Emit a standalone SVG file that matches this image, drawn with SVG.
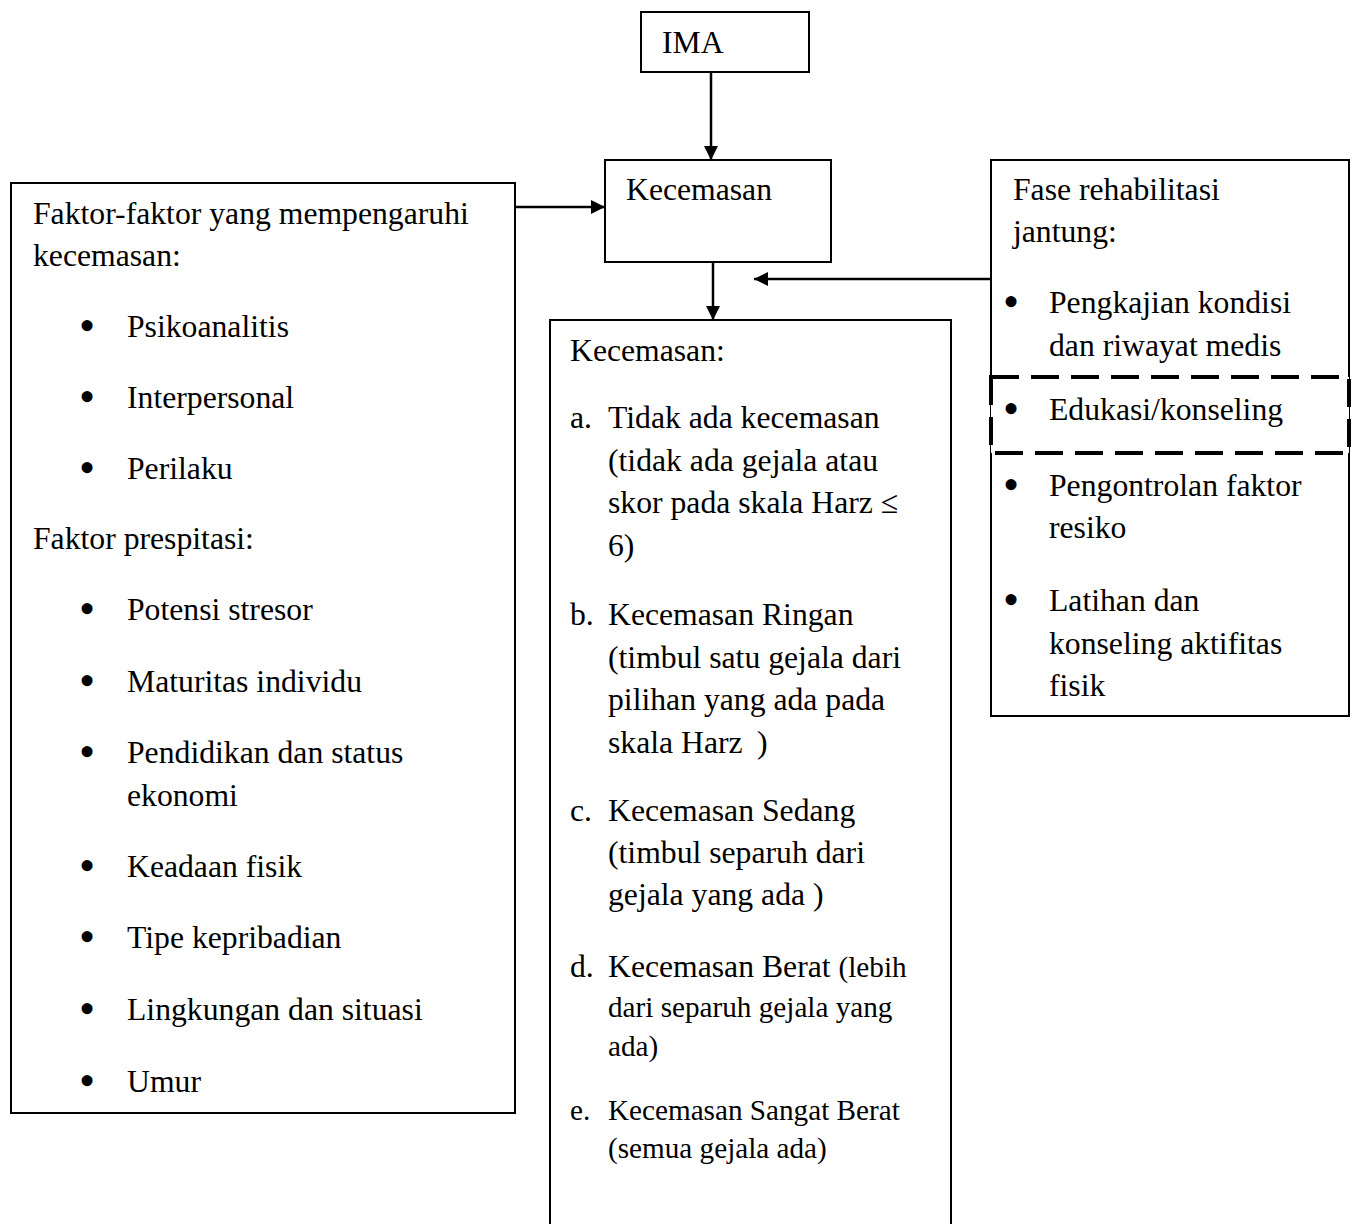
<svg xmlns="http://www.w3.org/2000/svg" width="1357" height="1224" viewBox="0 0 1357 1224">
<style>
.box{fill:#fff;stroke:#000;stroke-width:2}
.dash{fill:#fff;stroke:#000;stroke-width:4;stroke-dasharray:28 12}
.t{font-family:"Liberation Serif","Times New Roman",serif;font-size:31.7px;fill:#000}
.s{font-size:29.2px}
.b{font-size:46px}
.conn{stroke:#000;stroke-width:2.5;fill:none}
</style>
<defs>
<marker id="ah" viewBox="0 0 10 10" refX="10" refY="5" markerWidth="15" markerHeight="14" markerUnits="userSpaceOnUse" orient="auto">
<path d="M0,0 L10,5 L0,10 z" fill="#000"/>
</marker>
</defs>
<rect width="1357" height="1224" fill="#fff"/>

<g id="ima">
<rect class="box" x="641" y="12" width="168" height="60"/>
<text class="t" x="662" y="53">IMA</text>
</g>

<g id="kecemasan">
<rect class="box" x="605" y="160" width="226" height="102"/>
<text class="t" x="626" y="200">Kecemasan</text>
</g>

<g id="faktor">
<rect class="box" x="11" y="183" width="504" height="930"/>
<g class="t">
<text x="33" y="224">Faktor-faktor yang mempengaruhi</text>
<text x="33" y="266">kecemasan:</text>
<text class="b" x="79" y="341">•</text><text x="127" y="337">Psikoanalitis</text>
<text class="b" x="79" y="412">•</text><text x="127" y="408">Interpersonal</text>
<text class="b" x="79" y="483">•</text><text x="127" y="479">Perilaku</text>
<text x="33" y="549">Faktor prespitasi:</text>
<text class="b" x="79" y="624">•</text><text x="127" y="620">Potensi stresor</text>
<text class="b" x="79" y="696">•</text><text x="127" y="692">Maturitas individu</text>
<text class="b" x="79" y="767">•</text><text x="127" y="763">Pendidikan dan status</text>
<text x="127" y="806">ekonomi</text>
<text class="b" x="79" y="881">•</text><text x="127" y="877">Keadaan fisik</text>
<text class="b" x="79" y="952">•</text><text x="127" y="948">Tipe kepribadian</text>
<text class="b" x="79" y="1024">•</text><text x="127" y="1020">Lingkungan dan situasi</text>
<text class="b" x="79" y="1096">•</text><text x="127" y="1092">Umur</text>
</g>
</g>

<g id="tingkat-kecemasan">
<path class="box" d="M550,1226 L550,320 L951,320 L951,1226"/>
<g class="t">
<text x="570" y="361">Kecemasan:</text>
<text x="570" y="428">a.</text><text x="608" y="428">Tidak ada kecemasan</text>
<text x="608" y="471">(tidak ada gejala atau</text>
<text x="608" y="513">skor pada skala Harz ≤</text>
<text x="608" y="556">6)</text>
<text x="570" y="625">b.</text><text x="608" y="625">Kecemasan Ringan</text>
<text x="608" y="668">(timbul satu gejala dari</text>
<text x="608" y="710">pilihan yang ada pada</text>
<text x="608" y="753">skala Harz</text><text x="757" y="753">)</text>
<text x="570" y="821">c.</text><text x="608" y="821">Kecemasan Sedang</text>
<text x="608" y="863">(timbul separuh dari</text>
<text x="608" y="905">gejala yang ada )</text>
<text x="570" y="977">d.</text><text x="608" y="977">Kecemasan Berat <tspan class="s">(lebih</tspan></text>
<text class="s" x="608" y="1017">dari separuh gejala yang</text>
<text class="s" x="608" y="1056">ada)</text>
<text class="s" x="570" y="1120">e.</text><text class="s" x="608" y="1120">Kecemasan Sangat Berat</text>
<text class="s" x="608" y="1158">(semua gejala ada)</text>
</g>
</g>

<g id="fase-rehabilitasi">
<rect class="box" x="991" y="160" width="358" height="556"/>
<rect class="dash" x="991" y="377" width="358" height="76"/>
<g class="t">
<text x="1013" y="200">Fase rehabilitasi</text>
<text x="1013" y="242">jantung:</text>
<text class="b" x="1003" y="317">•</text><text x="1049" y="313">Pengkajian kondisi</text>
<text x="1049" y="356">dan riwayat medis</text>
<text class="b" x="1003" y="424">•</text><text x="1049" y="420">Edukasi/konseling</text>
<text class="b" x="1003" y="500">•</text><text x="1049" y="496">Pengontrolan faktor</text>
<text x="1049" y="538">resiko</text>
<text class="b" x="1003" y="615">•</text><text x="1049" y="611">Latihan dan</text>
<text x="1049" y="654">konseling aktifitas</text>
<text x="1049" y="696">fisik</text>
</g>
</g>

<g id="connectors">
<line class="conn" x1="711" y1="72" x2="711" y2="160" marker-end="url(#ah)"/>
<line class="conn" x1="713" y1="262" x2="713" y2="320" marker-end="url(#ah)"/>
<line class="conn" x1="515" y1="207" x2="605" y2="207" marker-end="url(#ah)"/>
<line class="conn" x1="991" y1="279" x2="754" y2="279" marker-end="url(#ah)"/>
</g>
</svg>
